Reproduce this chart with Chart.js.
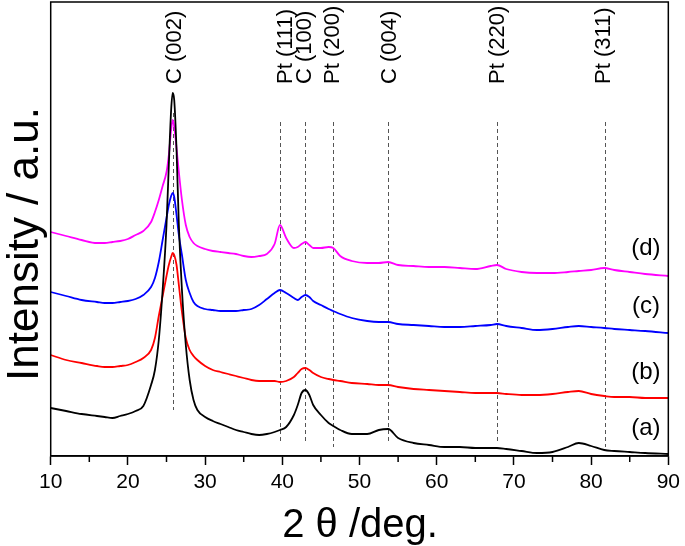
<!DOCTYPE html>
<html>
<head>
<meta charset="utf-8">
<script src="https://cdn.jsdelivr.net/npm/chart.js@4.4.1/dist/chart.umd.min.js"></script>
<style>
  html, body { margin: 0; padding: 0; background: #ffffff; }
  #wrap { width: 685px; height: 546px; position: relative; }
</style>
</head>
<body>
<div id="wrap"><canvas id="c" width="685" height="546"></canvas></div>
<script>
// ---- Data ----
const twoTheta = [10,12,14,16,17,18,19,20,21,22,23,23.5,24,24.5,25,25.3,25.6,25.8,26,26.3,26.6,27,27.5,28,28.5,29,30,31,32,33,34,35,36,37,38,39,39.7,40.5,41.5,42,42.5,43,43.5,44,45,46,46.6,47.5,49,51,52.5,53.7,55,57,59,61,63,65,67,67.8,69,71,73,75,77,78.4,80,81.7,83,85,87,90];

const intensityA = [48,45,42,40,39,38,40,42,45,50,71,86,116,166,231,291,346,363,356,306,231,166,111,76,56,46,39,35,32,29,26,24,22,21,22,24,26,29,41,51,63,66,61,51,41,33,30,26,22,22,26,27,18,13,11,9,9,8,8,8,7,5,3,4,9,13,10,6,5,4,3,2];
const intensityB = [101,96,93,90,89,89,90,91,94,98,106,118,140,160,180,191,199,203,201,191,171,144,118,106,100,96,90,86,84,82,80,78,76,75,75,75,74,75,79,83,87,88,86,83,79,77,76,75,73,72,71,71,69,67,66,65,64,63,63,63,62,61,61,62,64,65,62,60,59,59,58,58];
const intensityC = [164,160,156,154,153,153,154,155,157,161,169,178,194,216,238,251,260,263,259,241,221,201,176,163,154,150,147,146,145,145,145,146,147,151,157,163,166,163,158,156,159,161,159,155,151,147,145,142,138,135,134,134,132,131,130,129,129,130,131,132,130,128,126,127,129,130,129,128,127,126,125,123];
const intensityD = [224,220,216,213,213,214,215,217,221,225,234,244,256,270,284,301,326,336,329,308,284,256,231,219,213,210,207,205,204,203,202,200,199,200,202,212,231,218,208,209,212,214,211,208,208,209,208,200,195,193,193,194,191,190,189,189,188,187,190,191,187,184,183,183,184,185,186,188,186,184,182,180];

const seriesNames = ['(a)', '(b)', '(c)', '(d)'];
const seriesColors = ['#000000', '#ff0000', '#0000ff', '#ff00ff'];
const seriesLabelX = [87.1, 87.1, 87.1, 87.1];
const seriesLabelY = [28, 84, 150, 208];

const peakLabels = ['C (002)', 'Pt (111)', 'C (100)', 'Pt (200)', 'C (004)', 'Pt (220)', 'Pt (311)'];
const peakPositions = [25.9, 39.7, 43.0, 46.6, 53.75, 67.8, 81.75];
const peakLabelPositions = [26.1, 40.5, 42.9, 46.6, 54.0, 67.9, 81.6];
const peakLineTops = [343, 334, 334, 334, 334, 334, 334];
const peakLineBottoms = [46, 14, 14, 9, 14, 14, 9];

const xTickLabels = ['10','20','30','40','50','60','70','80','90'];
const xMinorTicks = [15,25,35,45,55,65,75,85];

const xTitle = '2 θ /deg.';
const yTitle = 'Intensity / a.u.';

const FONT = '"Liberation Sans", Arial, Helvetica, sans-serif';

function toPoints(arr) { return twoTheta.map((x, i) => ({ x: x, y: arr[i] })); }

const allSeries = [intensityA, intensityB, intensityC, intensityD];
const datasets = allSeries.map((s, i) => ({
  label: seriesNames[i],
  data: toPoints(s),
  borderColor: seriesColors[i],
  borderWidth: 1.8,
  pointRadius: 0,
  fill: false,
  tension: 0,
  cubicInterpolationMode: 'monotone'
}));

const decorPlugin = {
  id: 'decor',
  beforeDatasetsDraw(chart) {
    const ctx = chart.ctx, xs = chart.scales.x, ys = chart.scales.y;
    ctx.save();
    ctx.strokeStyle = '#555555';
    ctx.lineWidth = 1;
    ctx.setLineDash([4, 3]);
    peakPositions.forEach((p, i) => {
      const px = Math.round(xs.getPixelForValue(p)) + 0.5;
      ctx.beginPath();
      ctx.moveTo(px, ys.getPixelForValue(peakLineTops[i]));
      ctx.lineTo(px, ys.getPixelForValue(peakLineBottoms[i]));
      ctx.stroke();
    });
    ctx.restore();
  },
  afterDraw(chart) {
    const ctx = chart.ctx, xs = chart.scales.x, ys = chart.scales.y;
    const a = chart.chartArea;
    ctx.save();
    // frame
    ctx.strokeStyle = '#000';
    ctx.lineWidth = 1.5;
    ctx.setLineDash([]);
    ctx.strokeRect(a.left, a.top, a.right - a.left, a.bottom - a.top);
    // minor ticks
    ctx.lineWidth = 1.5;
    xMinorTicks.forEach(v => {
      const px = xs.getPixelForValue(v);
      ctx.beginPath();
      ctx.moveTo(px, a.bottom);
      ctx.lineTo(px, a.bottom + 6);
      ctx.stroke();
    });
    // peak labels (rotated)
    ctx.fillStyle = '#000';
    ctx.font = '22px ' + FONT;
    ctx.textAlign = 'left';
    ctx.textBaseline = 'middle';
    peakLabels.forEach((t, i) => {
      const px = xs.getPixelForValue(peakLabelPositions[i]);
      ctx.save();
      ctx.translate(px, 84);
      ctx.rotate(-Math.PI / 2);
      ctx.fillText(t, 0, 0);
      ctx.restore();
    });
    // series labels
    ctx.font = '24px ' + FONT;
    ctx.textAlign = 'center';
    ctx.textBaseline = 'middle';
    seriesNames.forEach((t, i) => {
      ctx.fillText(t, xs.getPixelForValue(seriesLabelX[i]), ys.getPixelForValue(seriesLabelY[i]));
    });
    // axis titles
    ctx.font = '40px ' + FONT;
    ctx.textAlign = 'center';
    ctx.textBaseline = 'alphabetic';
    ctx.fillText(xTitle, 360, 537);
    ctx.save();
    ctx.translate(38, 244);
    ctx.rotate(-Math.PI / 2);
    ctx.font = '44px ' + FONT;
    ctx.textAlign = 'center';
    ctx.textBaseline = 'alphabetic';
    ctx.fillText(yTitle, 0, 0);
    ctx.restore();
    ctx.restore();
  }
};

new Chart(document.getElementById('c'), {
  type: 'line',
  data: { datasets: datasets },
  options: {
    responsive: false,
    animation: false,
    events: [],
    layout: { padding: { left: 50.7, right: 12.7, top: 2, bottom: 0 } },
    plugins: { legend: { display: false }, tooltip: { enabled: false } },
    scales: {
      x: {
        type: 'linear',
        min: 10, max: 90,
        afterFit(scale) { scale.height = 90; },
        afterBuildTicks(scale) {
          scale.ticks = xTickLabels.map(t => ({ value: Number(t) }));
        },
        ticks: {
          stepSize: 10,
          color: '#000',
          font: { family: FONT, size: 21 },
          padding: 5,
          maxRotation: 0,
          autoSkip: false,
          callback: (v) => String(v)
        },
        grid: { drawOnChartArea: false, drawTicks: true, tickLength: 9, tickWidth: 1.5, tickColor: '#000' },
        border: { display: true, color: '#000', width: 1.5 }
      },
      y: {
        display: false,
        min: 0, max: 454
      }
    }
  },
  plugins: [decorPlugin]
});
</script>
</body>
</html>
